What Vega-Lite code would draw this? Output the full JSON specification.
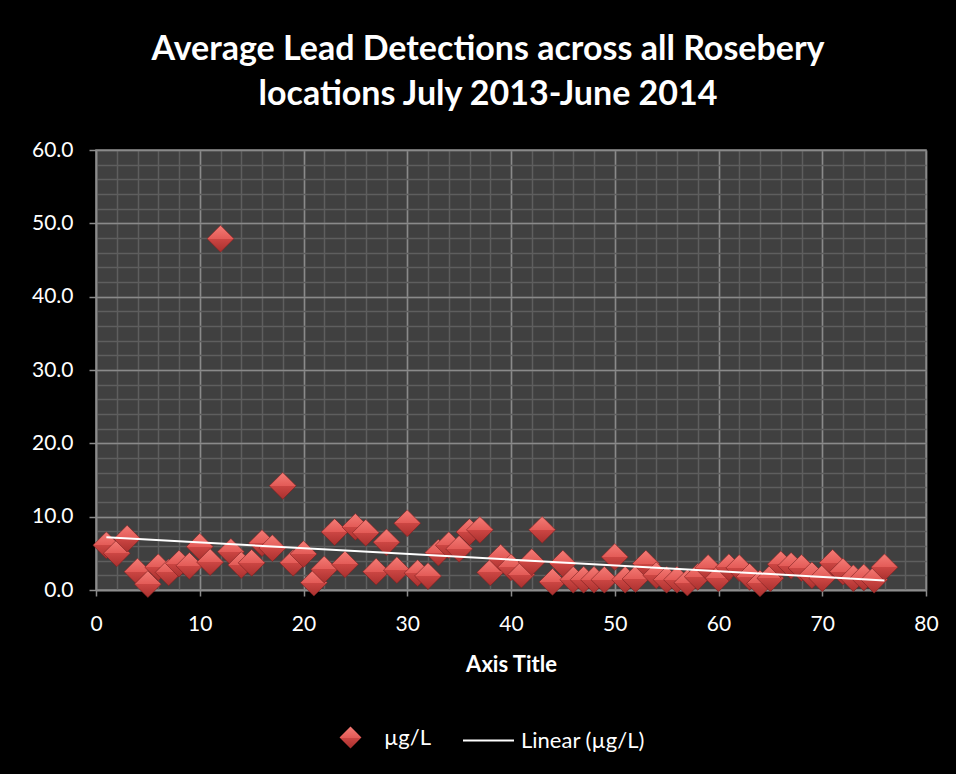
{
  "$schema": "https://vega.github.io/schema/vega-lite/v6.json",
  "width": 830,
  "height": 440,
  "autosize": {"type": "none"},
  "padding": {"left": 96, "top": 150, "right": 30, "bottom": 184},
  "background": "black",
  "title": {
    "text": ["Average Lead Detections across all Rosebery", "locations July 2013-June 2014"],
    "font": "Lato",
    "fontSize": 34,
    "fontWeight": "bold",
    "color": "white",
    "lineHeight": 45,
    "anchor": "middle",
    "dx": -23,
    "offset": 27
  },
  "config": {
    "view": {"stroke": "#8c8c8c", "fill": "#404040", "strokeWidth": 1.5},
    "axis": {"labelFont": "Lato", "titleFont": "Lato"},
    "legend": {"labelFont": "Lato"}
  },
  "data": {
    "values": [
      {"x": 1, "y": 6.1}, {"x": 2, "y": 5.0}, {"x": 3, "y": 7.0}, {"x": 4, "y": 2.5},
      {"x": 5, "y": 0.8}, {"x": 6, "y": 3.1}, {"x": 7, "y": 2.4}, {"x": 8, "y": 3.6},
      {"x": 9, "y": 3.3}, {"x": 10, "y": 5.9}, {"x": 11, "y": 3.8}, {"x": 12, "y": 47.9},
      {"x": 13, "y": 5.2}, {"x": 14, "y": 3.4}, {"x": 15, "y": 3.7}, {"x": 16, "y": 6.4},
      {"x": 17, "y": 5.7}, {"x": 18, "y": 14.2}, {"x": 19, "y": 3.7}, {"x": 20, "y": 4.9},
      {"x": 21, "y": 1.0}, {"x": 22, "y": 2.8}, {"x": 23, "y": 7.9}, {"x": 24, "y": 3.5},
      {"x": 25, "y": 8.6}, {"x": 26, "y": 7.8}, {"x": 27, "y": 2.5}, {"x": 28, "y": 6.5},
      {"x": 29, "y": 2.7}, {"x": 30, "y": 9.1}, {"x": 31, "y": 2.3}, {"x": 32, "y": 1.9},
      {"x": 33, "y": 5.1}, {"x": 34, "y": 6.1}, {"x": 35, "y": 5.6}, {"x": 36, "y": 7.9},
      {"x": 37, "y": 8.2}, {"x": 38, "y": 2.4}, {"x": 39, "y": 4.4}, {"x": 40, "y": 3.1},
      {"x": 41, "y": 2.1}, {"x": 42, "y": 3.8}, {"x": 43, "y": 8.2}, {"x": 44, "y": 1.1},
      {"x": 45, "y": 3.6}, {"x": 46, "y": 1.4}, {"x": 47, "y": 1.4}, {"x": 48, "y": 1.4},
      {"x": 49, "y": 1.4}, {"x": 50, "y": 4.5}, {"x": 51, "y": 1.4}, {"x": 52, "y": 1.5},
      {"x": 53, "y": 3.6}, {"x": 54, "y": 2.0}, {"x": 55, "y": 1.4}, {"x": 56, "y": 1.4},
      {"x": 57, "y": 1.0}, {"x": 58, "y": 1.8}, {"x": 59, "y": 3.0}, {"x": 60, "y": 1.6},
      {"x": 61, "y": 3.1}, {"x": 62, "y": 3.0}, {"x": 63, "y": 1.8}, {"x": 64, "y": 0.9},
      {"x": 65, "y": 1.6}, {"x": 66, "y": 3.5}, {"x": 67, "y": 3.3}, {"x": 68, "y": 3.0},
      {"x": 69, "y": 2.0}, {"x": 70, "y": 1.6}, {"x": 71, "y": 3.7}, {"x": 72, "y": 2.5},
      {"x": 73, "y": 1.6}, {"x": 74, "y": 1.7}, {"x": 75, "y": 1.4}, {"x": 76, "y": 3.1}
    ]
  },
  "layer": [
    {
      "mark": {"type": "point", "opacity": 0},
      "encoding": {
        "x": {
          "field": "x", "type": "quantitative",
          "scale": {"domain": [0, 80], "nice": false, "zero": false},
          "axis": {
            "orient": "bottom", "values": [0, 2, 4, 6, 8, 10, 12, 14, 16, 18, 20, 22, 24, 26, 28, 30, 32, 34, 36, 38, 40, 42, 44, 46, 48, 50, 52, 54, 56, 58, 60, 62, 64, 66, 68, 70, 72, 74, 76, 78, 80],
            "grid": true, "gridColor": "#5e5e5e", "gridWidth": 1.5, "gridOpacity": 1,
            "labels": false, "ticks": false, "domain": false, "title": null
          }
        },
        "y": {
          "field": "y", "type": "quantitative",
          "scale": {"domain": [0, 60], "nice": false, "zero": false},
          "axis": {
            "orient": "left", "values": [0, 2, 4, 6, 8, 10, 12, 14, 16, 18, 20, 22, 24, 26, 28, 30, 32, 34, 36, 38, 40, 42, 44, 46, 48, 50, 52, 54, 56, 58, 60],
            "grid": true, "gridColor": "#5e5e5e", "gridWidth": 1.5, "gridOpacity": 1,
            "labels": false, "ticks": false, "domain": false, "title": null
          }
        }
      }
    },
    {
      "mark": {
        "type": "point",
        "filled": true,
        "opacity": 1,
        "size": 720,
        "stroke": "#7a2020",
        "strokeWidth": 0.6,
        "fill": {
          "gradient": "linear", "x1": 0, "y1": 0, "x2": 0, "y2": 1,
          "stops": [
            {"offset": 0, "color": "#f47c76"},
            {"offset": 0.5, "color": "#e35b57"},
            {"offset": 0.5, "color": "#cc4643"},
            {"offset": 1, "color": "#a9302e"}
          ]
        }
      },
      "encoding": {
        "x": {
          "field": "x", "type": "quantitative",
          "scale": {"domain": [0, 80], "nice": false, "zero": false},
          "axis": {
            "orient": "bottom", "values": [0, 10, 20, 30, 40, 50, 60, 70, 80],
            "labelFlush": false,
            "grid": true, "gridColor": "#8a8a8a", "gridWidth": 1.5, "gridOpacity": 1,
            "domain": true, "domainColor": "#8c8c8c", "domainWidth": 1.5,
            "ticks": true, "tickColor": "#8c8c8c", "tickSize": 6, "tickWidth": 1.5,
            "labelColor": "white", "labelFontSize": 21, "labelPadding": 17,
            "title": "Axis Title", "titleColor": "white", "titleFontSize": 22,
            "titleFontWeight": "bold", "titlePadding": 20
          }
        },
        "y": {
          "field": "y", "type": "quantitative",
          "scale": {"domain": [0, 60], "nice": false, "zero": false},
          "axis": {
            "orient": "left", "values": [0, 10, 20, 30, 40, 50, 60], "format": ".1f",
            "labelFlush": false,
            "grid": true, "gridColor": "#8a8a8a", "gridWidth": 1.5, "gridOpacity": 1,
            "domain": true, "domainColor": "#8c8c8c", "domainWidth": 1.5,
            "ticks": true, "tickColor": "#8c8c8c", "tickSize": 7, "tickWidth": 1.5,
            "labelColor": "white", "labelFontSize": 21, "labelPadding": 16,
            "title": null
          }
        },
        "shape": {
          "datum": "µg/L",
          "scale": {"domain": ["µg/L"], "range": ["diamond"]},
          "legend": {
            "title": null, "orient": "none", "legendX": 243, "legendY": 576,
            "symbolType": "diamond", "symbolSize": 480,
            "symbolFillColor": "#d9504c", "symbolStrokeColor": "#7a2020", "symbolStrokeWidth": 0.6,
            "labelColor": "white", "labelFontSize": 22, "labelOffset": 22,
            "encode": {"symbols": {"update": {"fill": {"value": "#d9504c"}, "opacity": {"value": 1}}}}
          }
        }
      }
    },
    {
      "transform": [{"regression": "y", "on": "x"}],
      "mark": {"type": "line", "strokeWidth": 2},
      "encoding": {
        "x": {"field": "x", "type": "quantitative", "axis": null},
        "y": {"field": "y", "type": "quantitative", "axis": null},
        "stroke": {
          "datum": "Linear (µg/L)",
          "scale": {"domain": ["Linear (µg/L)"], "range": ["white"]},
          "legend": {
            "title": null, "orient": "none", "legendX": 366, "legendY": 564,
            "symbolType": "stroke", "symbolSize": 2601, "symbolStrokeWidth": 2,
            "labelColor": "white", "labelFontSize": 22, "labelOffset": 6
          }
        }
      }
    }
  ],
  "resolve": {"axis": {"x": "independent", "y": "independent"}}
}
